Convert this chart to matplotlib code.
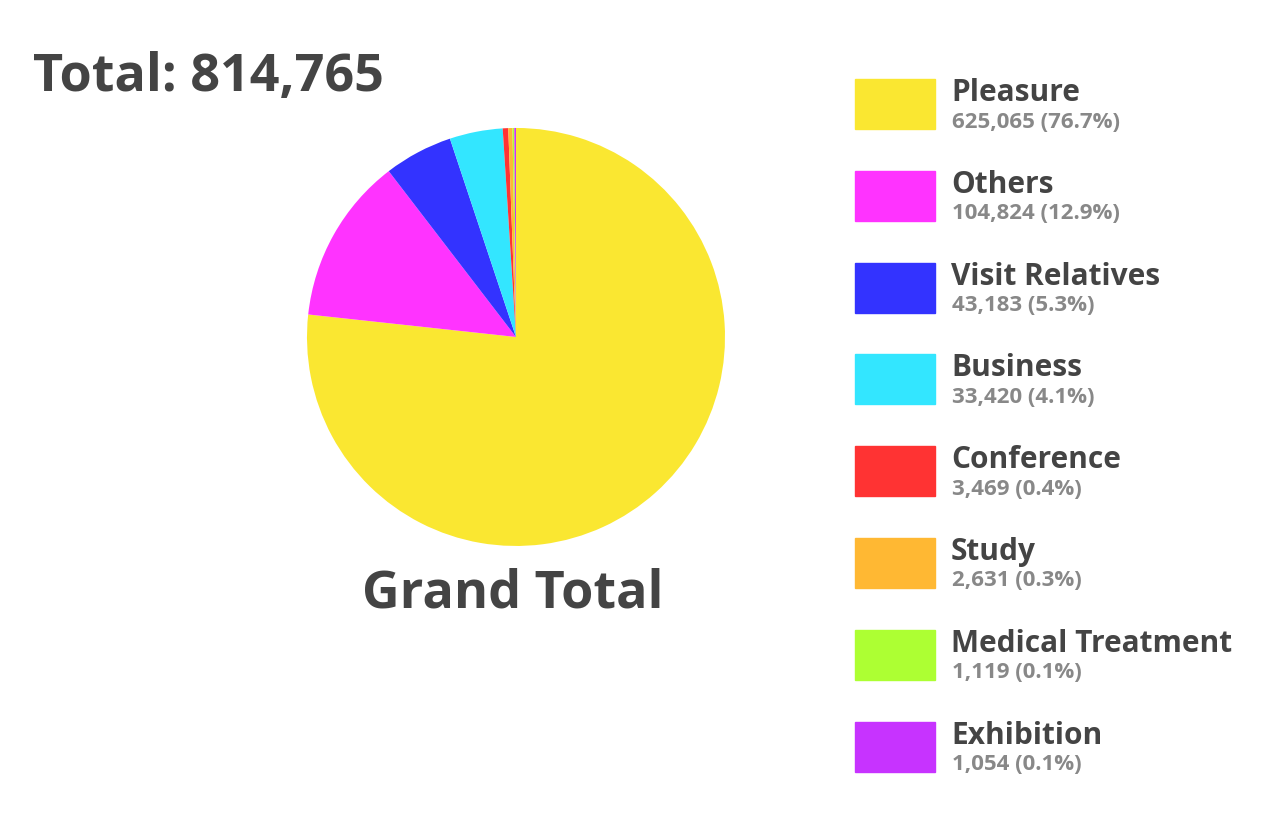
import matplotlib.pyplot as plt
from matplotlib.patches import Rectangle

categories = ['Pleasure', 'Others', 'Visit Relatives', 'Business',
              'Conference', 'Study', 'Medical Treatment', 'Exhibition']
values = [625065, 104824, 43183, 33420, 3469, 2631, 1119, 1054]
colors = ['#FAE731', '#FF33FF', '#3333FF', '#33E6FF',
          '#FF3333', '#FFB833', '#ADFF33', '#C733FF']

total = sum(values)
plt.rcParams['font.family'] = ['Open Sans', 'DejaVu Sans']

fig = plt.figure(figsize=(12.85, 8.16), dpi=100)

ax = fig.add_axes([0.4016 - 0.1627, 0.587 - 0.2561, 0.3253, 0.5123])
ax.pie(values, colors=colors, startangle=90, counterclock=False,
       wedgeprops=dict(linewidth=0))
ax.set_xlim(-1, 1)
ax.set_ylim(-1, 1)
ax.set_aspect('equal')

fig.text(33 / 1285, 1 - 77 / 816, f'Total: {total:,}', fontsize=37.5,
         fontweight='bold', color='#444444', va='center', ha='left')
fig.text(513 / 1285, 1 - 594 / 816, 'Grand Total', fontsize=37.5,
         fontweight='bold', color='#444444', va='center', ha='center')

# legend
for i, (cat, val, col) in enumerate(zip(categories, values, colors)):
    top = 79 + i * 91.8
    fig.patches.append(Rectangle((855 / 1285, 1 - (top + 50) / 816),
                                 80 / 1285, 50 / 816, color=col,
                                 transform=fig.transFigure, figure=fig))
    fig.text(951 / 1285, 1 - (top + 14) / 816, cat, fontsize=21.5,
             fontweight='bold', color='#444444', va='center', ha='left')
    fig.text(952 / 1285, 1 - (top + 43) / 816,
             f'{val:,} ({val / total * 100:.1f}%)', fontsize=16,
             fontweight='bold', color='#888888', va='center', ha='left')

fig.savefig('out.png', dpi=100)
